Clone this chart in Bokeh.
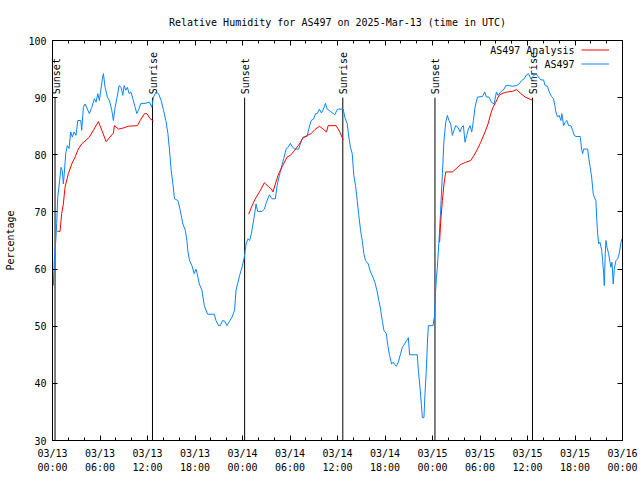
import math
from bokeh.plotting import figure
from bokeh.models import Range1d, LinearAxis, FixedTicker, Legend, LegendItem, Label, ColumnDataSource
from bokeh.core.properties import value
from bokeh.embed import file_html
from bokeh.resources import INLINE

FONT = "DejaVu Sans Mono"

# ---- data (hours since 2025-03-13 00:00 UTC) ----
obs_hours = [0.10, 0.23, 0.40, 0.53, 0.66, 0.86, 1.08, 1.24, 1.37, 1.49, 1.67, 1.87, 2.09, 2.30, 2.51, 2.72,
             2.97, 3.19, 3.57, 3.69, 3.90, 4.11, 4.40, 4.66, 4.96, 5.29, 5.50, 5.72, 5.92, 6.10, 6.30, 6.43,
             6.64, 6.93, 7.19, 7.49, 7.69, 7.91, 8.12, 8.41, 8.67, 8.88, 9.05, 9.26, 9.46, 9.68, 9.90, 10.15,
             10.44, 10.65, 10.86, 11.16, 11.70, 12.25, 12.55, 12.75, 13.10, 13.39, 13.73, 14.02, 14.32, 14.58,
             14.78, 14.99, 15.21, 15.41, 15.84, 16.13, 16.47, 16.77, 16.98, 17.11, 17.31, 17.61, 17.90, 18.12,
             18.28, 18.54, 18.88, 19.17, 19.59, 20.44, 20.65, 20.98, 21.19, 21.49, 21.74, 22.04, 22.33, 22.68,
             23.00, 23.18, 23.43, 23.64, 23.94, 24.23, 24.45, 24.70, 24.90, 25.12, 25.33, 25.54, 25.71, 25.91,
             26.47, 26.76, 27.02, 27.40, 27.74, 28.15, 28.37, 28.66, 28.91, 29.20, 29.51, 29.76, 30.05, 30.34,
             30.60, 31.10, 31.44, 31.66, 32.16, 32.37, 32.67, 33.00, 33.22, 33.43, 33.72, 33.97, 34.19, 34.48,
             34.69, 35.11, 35.66, 35.96, 36.16, 36.72, 36.92, 37.23, 37.43, 37.64, 37.86, 38.06, 38.28, 38.49,
             38.69, 38.91, 39.12, 39.33, 39.54, 39.88, 40.17, 40.47, 40.72, 41.02, 41.22, 41.44, 41.65, 41.86,
             42.16, 42.36, 42.58, 42.83, 43.05, 43.21, 43.43, 43.68, 43.97, 44.19, 44.48, 44.73, 44.95, 45.11,
             46.08, 46.21, 46.38, 46.59, 46.72, 46.92, 47.05, 47.22, 47.35, 47.48, 48.06, 48.27, 48.36, 48.49,
             48.61, 48.82, 49.03, 49.25, 49.45, 49.67, 49.88, 50.08, 50.30, 50.51, 50.72, 50.93, 51.22, 51.47,
             51.69, 51.90, 52.11, 52.32, 52.54, 52.74, 52.96, 53.17, 53.37, 53.68, 54.31, 54.60, 54.81, 55.14,
             55.45, 55.78, 56.08, 56.28, 56.62, 57.04, 57.26, 57.67, 58.10, 58.61, 58.94, 59.28, 59.57, 59.88,
             60.13, 60.42, 60.71, 61.05, 61.34, 61.69, 62.03, 62.23, 62.53, 62.74, 63.04, 63.29, 63.46, 63.58,
             63.80, 64.00, 64.22, 64.34, 64.56, 64.76, 64.98, 65.19, 65.48, 65.70, 65.90, 66.11, 66.66, 66.83,
             66.96, 67.09, 67.60, 67.72, 67.92, 68.10, 68.30, 68.43, 68.64, 68.73, 68.86, 68.99, 69.15, 69.37,
             69.49, 69.62, 69.70, 69.82, 69.91, 70.04, 70.25, 70.42, 70.54, 70.67, 70.83, 70.96, 71.18, 71.39,
             71.59, 71.81, 71.94]
obs_rh = [57.1, 61.5, 64.7, 68.0, 72.6, 74.9, 77.8, 77.2, 74.9, 76.7, 80.2, 81.6, 81.1, 84.0, 83.1, 84.0,
          83.4, 86.0, 86.0, 84.3, 88.3, 88.9, 88.0, 87.2, 88.3, 89.8, 89.2, 90.7, 89.5, 91.3, 93.3, 94.2,
          91.8, 90.1, 89.5, 87.8, 86.0, 88.3, 89.8, 92.1, 91.8, 90.4, 92.1, 91.3, 91.8, 90.7, 91.0, 89.8,
          88.3, 87.2, 87.8, 89.0, 89.0, 89.2, 88.3, 90.1, 91.0, 90.7, 89.5, 87.8, 86.0, 83.7,
          80.8, 77.3, 74.9, 72.3, 72.0, 70.3, 67.9, 66.8, 65.0, 63.0, 61.5, 60.6, 59.2, 60.0,
          59.2, 57.4, 56.3, 53.6, 52.1, 52.1, 51.0, 50.1, 50.1, 51.0, 50.9, 50.1, 50.8, 51.6,
          52.8, 56.3, 57.7, 58.9, 60.3, 62.1, 64.4, 65.3, 65.0, 66.2, 67.9, 69.7, 71.4, 70.1,
          70.1, 70.5, 71.7, 73.0, 72.3, 72.3, 74.6, 76.4, 77.8, 79.3, 81.0, 81.3, 82.0, 81.3,
          81.0, 81.0, 82.5, 83.1, 83.2, 84.5, 86.0, 86.3, 87.2, 87.2, 88.0, 87.3, 87.9, 89.0,
          88.0, 87.6, 87.0, 87.9, 88.0, 88.0, 86.6, 85.4, 83.1, 81.3, 80.2, 76.4, 74.6, 72.0,
          69.4, 66.8, 65.0, 62.7, 61.5, 60.9, 59.5, 58.6, 57.7, 56.0, 54.5, 53.0, 51.0, 49.3,
          48.7, 46.6, 44.9, 43.4, 43.7, 43.3, 43.0, 43.7, 45.2, 46.3, 46.9, 47.5, 48.0, 45.0,
          45.0, 42.3, 39.9, 36.4, 34.0, 34.0, 38.2, 42.3, 46.9, 50.1, 50.1, 51.9, 55.4, 58.3,
          60.3, 65.0, 70.3, 76.7, 82.5, 85.7, 86.9, 86.0, 85.4, 83.4, 84.3, 85.1, 84.8, 84.0,
          84.8, 85.1, 82.2, 83.4, 84.5, 85.1, 84.0, 86.0, 88.3, 90.1, 90.2, 91.0, 90.1, 90.1,
          89.2, 88.9, 91.0, 90.4, 91.0, 91.5, 92.1, 92.1, 92.0, 92.1, 92.4, 93.0, 93.3, 94.0,
          94.2, 93.3, 93.7, 94.2, 93.7, 93.1, 93.1, 92.1, 92.0, 91.0, 90.2, 89.8, 88.6, 87.5,
          86.6, 86.9, 86.0, 87.2, 85.1, 85.7, 86.0, 85.1, 85.1, 84.3, 83.4, 83.2, 83.2, 81.0,
          80.2, 81.0, 81.0, 79.6, 77.8, 76.1, 73.2, 72.6, 72.0, 69.1, 66.2, 64.4, 64.7, 63.3,
          61.5, 59.2, 57.1, 62.7, 65.0, 63.8, 62.7, 61.2, 60.3, 61.2, 57.4, 60.0, 61.5, 61.8,
          62.7, 64.7, 65.3]

analysis_night1_hours = [0.61, 0.95, 1.16, 1.37, 1.58, 2.00, 2.43, 2.85, 3.26, 3.69, 4.66, 5.16, 5.80, 6.23,
                         6.77, 7.69, 7.82, 8.33, 8.96, 9.59, 10.73, 11.07, 11.62, 11.92, 12.34, 12.75]
analysis_night1_rh = [66.6, 66.6, 69.7, 71.4, 74.3, 76.7, 78.4, 79.6, 81.0, 81.9, 83.1, 84.3, 85.8, 84.3,
                      82.3, 83.8, 85.1, 84.5, 84.7, 85.0, 85.1, 86.0, 87.2, 87.2, 86.3, 85.9]
analysis_night2_hours = [24.78, 25.21, 25.62, 26.26, 26.76, 27.31, 27.65, 27.86, 28.15, 28.57, 29.08, 29.63,
                         30.05, 30.60, 31.19, 31.61, 32.17, 32.67, 33.13, 33.72, 34.27, 34.61, 34.82, 35.83,
                         36.29, 36.72]
analysis_night2_rh = [69.6, 71.1, 72.3, 73.8, 75.1, 74.4, 74.0, 73.5, 74.9, 76.7, 78.1, 79.6,
                      79.9, 80.8, 81.9, 82.9, 83.4, 83.7, 84.4, 85.0, 84.4, 84.0, 85.1, 85.1,
                      84.0, 82.6]
analysis_night3_hours = [48.90, 49.03, 49.25, 49.45, 49.67, 50.51, 50.93, 51.56, 52.20, 52.83, 53.25, 53.68,
                         54.09, 54.64, 55.02, 55.36, 55.65, 55.99, 56.41, 56.92, 57.47, 58.10, 58.61, 59.16,
                         59.70, 60.21, 60.71]
analysis_night3_rh = [64.7, 68.2, 72.0, 74.9, 77.0, 77.0, 77.5, 78.3, 78.7, 79.0, 79.9, 81.0,
                      82.2, 84.0, 85.4, 87.2, 88.3, 89.2, 90.4, 90.8, 91.0, 91.1, 91.4, 90.7,
                      90.1, 89.8, 89.5]

event_hours = [0.32, 12.63, 24.27, 36.67, 48.31, 60.63]
event_names = ["Sunset", "Sunrise", "Sunset", "Sunrise", "Sunset", "Sunrise"]

x_tick_hours = [0, 6, 12, 18, 24, 30, 36, 42, 48, 54, 60, 66, 72]
x_tick_labels = ["03/13\n00:00", "03/13\n06:00", "03/13\n12:00", "03/13\n18:00",
                 "03/14\n00:00", "03/14\n06:00", "03/14\n12:00", "03/14\n18:00",
                 "03/15\n00:00", "03/15\n06:00", "03/15\n12:00", "03/15\n18:00",
                 "03/16\n00:00"]
x_minor_hours = [h for h in range(0, 73, 2)]
y_ticks = [30, 40, 50, 60, 70, 80, 90, 100]

series_names = ["AS497 Analysis", "AS497"]
RED = "#ff0000"
BLUE = "#0a84ff"

# ---- figure ----
p = figure(frame_width=570, frame_height=400, x_range=Range1d(0, 72), y_range=Range1d(30, 100),
           output_backend="svg", toolbar_location=None,
           min_border_left=52, min_border_right=18, min_border_top=40, min_border_bottom=40)
p.background_fill_color = "white"
p.border_fill_color = "white"
p.outline_line_color = "black"
p.outline_line_width = 1
p.xgrid.visible = False
p.ygrid.visible = False

p.title.text = "Relative Humidity for AS497 on 2025-Mar-13 (time in UTC)"
p.title.align = "center"
p.title.text_font = FONT
p.title.text_font_size = "10px"
p.title.text_font_style = "normal"
p.title.text_color = "black"
p.title.standoff = 25

xt = FixedTicker(ticks=x_tick_hours, minor_ticks=x_minor_hours)
yt = FixedTicker(ticks=y_ticks, minor_ticks=[])

xa = p.xaxis[0]
xa.ticker = xt
xa.major_label_overrides = {h: lab for h, lab in zip(x_tick_hours, x_tick_labels)}
ya = p.yaxis[0]
ya.ticker = yt
ya.axis_label = "Percentage"
ya.axis_label_standoff = 9
ya.axis_label_text_font_style = "normal"

for ax in (xa, ya):
    ax.major_label_text_font = FONT
    ax.major_label_text_font_size = "10px"
    ax.axis_label_text_font = FONT
    ax.axis_label_text_font_size = "10px"
    ax.major_tick_in = 5
    ax.major_tick_out = 0
    ax.minor_tick_in = 3
    ax.minor_tick_out = 0
    ax.axis_line_color = "black"
    ax.major_tick_line_color = "black"
    ax.minor_tick_line_color = "black"
    ax.major_label_text_color = "black"
    ax.axis_label_text_color = "black"
xa.major_label_standoff = 7
xa.major_label_text_line_height = 1.35
ya.major_label_standoff = 6

for ticker, place in ((xt, "above"), (yt, "right")):
    ax = LinearAxis(ticker=ticker)
    ax.major_label_overrides = {t: "" for t in ticker.ticks}
    ax.major_label_text_font_size = "1px"
    ax.major_label_standoff = 0
    ax.major_tick_in = 5
    ax.major_tick_out = 0
    ax.minor_tick_in = 3
    ax.minor_tick_out = 0
    ax.axis_line_color = "black"
    p.add_layout(ax, place)

# sunrise / sunset markers
ev = ColumnDataSource(dict(x=event_hours, y0=[30] * len(event_hours), y1=[90] * len(event_hours),
                           ty=[90.6] * len(event_hours), name=event_names))
p.segment(x0="x", y0="y0", x1="x", y1="y1", source=ev, line_color="black", line_width=1)
p.text(x="x", y="ty", text="name", source=ev, angle=math.pi / 2, text_align="left",
       text_baseline="middle", x_offset=1, text_font=value(FONT), text_font_size="10px", text_color="black")

# series
nan = float("nan")
a_hours = analysis_night1_hours + [nan] + analysis_night2_hours + [nan] + analysis_night3_hours
a_rh = analysis_night1_rh + [nan] + analysis_night2_rh + [nan] + analysis_night3_rh
r_blue = p.line(obs_hours, obs_rh, line_color=BLUE, line_width=1)
r_red = p.line(a_hours, a_rh, line_color=RED, line_width=1)

legend = Legend(items=[LegendItem(label=" ", renderers=[r_red]), LegendItem(label=" ", renderers=[r_blue])],
                location=(529, 370), glyph_width=28, glyph_height=13, label_height=13, label_width=0,
                label_standoff=0, spacing=1, padding=0, margin=0, border_line_color=None,
                background_fill_alpha=0, label_text_font_size="1px")
p.add_layout(legend)
for i, name in enumerate(series_names):
    p.add_layout(Label(x=522, y=390 - 14 * i, x_units="screen", y_units="screen", text=name,
                       text_align="right", text_baseline="middle", text_font=FONT,
                       text_font_size="10px", text_color="black"))

open("out.html", "w").write(file_html(p, INLINE))
